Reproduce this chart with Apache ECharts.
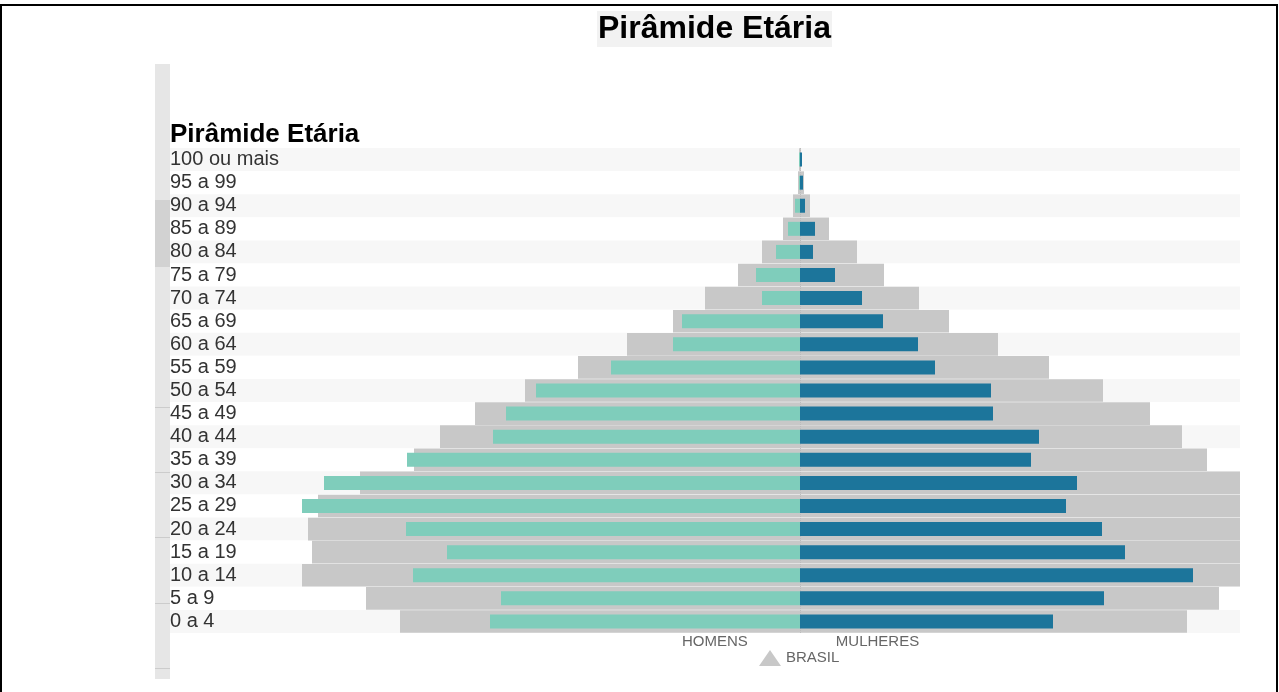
<!DOCTYPE html>
<html>
<head>
<meta charset="utf-8">
<title>Pirâmide Etária</title>
<script src="https://cdn.jsdelivr.net/npm/echarts@6/dist/echarts.min.js"></script>
<style>
    html, body { margin: 0; padding: 0; background: #fff; }
    #chart { width: 1279px; height: 692px; }
</style>
</head>
<body>
<div id="chart"></div>
<script>
// faixas etárias (de cima para baixo)
var faixas = ['100 ou mais', '95 a 99', '90 a 94', '85 a 89', '80 a 84', '75 a 79', '70 a 74',
    '65 a 69', '60 a 64', '55 a 59', '50 a 54', '45 a 49', '40 a 44', '35 a 39', '30 a 34',
    '25 a 29', '20 a 24', '15 a 19', '10 a 14', '5 a 9', '0 a 4'];
// % da população do município
var homens = [0.01, 0.01, 0.05, 0.12, 0.24, 0.44, 0.38, 1.18, 1.27, 1.89, 2.64, 2.94, 3.07,
    3.93, 4.76, 4.98, 3.94, 3.53, 3.87, 2.99, 3.10];
var mulheres = [0.02, 0.03, 0.05, 0.15, 0.13, 0.35, 0.62, 0.83, 1.18, 1.35, 1.91, 1.93, 2.39,
    2.31, 2.77, 2.66, 3.02, 3.25, 3.93, 3.04, 2.53];
// % da população do Brasil (fundo cinza)
var brasilHomens = [0.01, 0.02, 0.07, 0.17, 0.38, 0.62, 0.95, 1.27, 1.73, 2.22, 2.75, 3.25, 3.60,
    3.86, 4.40, 4.82, 4.92, 4.88, 4.98, 4.34, 4.00];
var brasilMulheres = [0.01, 0.04, 0.10, 0.29, 0.57, 0.84, 1.19, 1.49, 1.98, 2.49, 3.03, 3.50, 3.82,
    4.07, 4.55, 4.55, 4.55, 4.55, 4.55, 4.19, 3.87];

var fonte = '"Liberation Sans", Arial, sans-serif';
var neg = function (arr) { return arr.map(function (v) { return -v; }); };

var chart = echarts.init(document.getElementById('chart'));
chart.setOption({
    animation: false,
    textStyle: { fontFamily: fonte },
    title: [{
        text: 'Pirâmide Etária',
        left: 597,
        top: 12,
        padding: [2, 1],
        backgroundColor: '#f2f2f2',
        textStyle: { fontSize: 32, fontWeight: 'bold', color: '#000', fontFamily: fonte, lineHeight: 30 }
    }, {
        text: 'Pirâmide Etária',
        left: 170,
        top: 122,
        padding: 0,
        textStyle: { fontSize: 26, fontWeight: 'bold', color: '#000', fontFamily: fonte }
    }],
    tooltip: {
        trigger: 'item',
        formatter: function (p) {
            return p.seriesName + '<br/>' + p.name + ': ' + Math.abs(p.value).toFixed(2) + '%';
        }
    },
    legend: [{
        data: [{ name: 'HOMENS', icon: 'none' }, { name: 'MULHERES', icon: 'none' }],
        left: 677,
        top: 634,
        padding: 0,
        itemWidth: 0,
        itemGap: 83,
        textStyle: { fontSize: 15, color: '#666', fontFamily: fonte }
    }, {
        data: [{ name: 'BRASIL', icon: 'triangle' }],
        left: 759,
        top: 650,
        padding: 0,
        itemWidth: 22,
        itemHeight: 16,
        textStyle: { fontSize: 15, color: '#666', fontFamily: fonte }
    }],
    grid: { left: 170, right: 39, top: 148, bottom: 59 },
    xAxis: {
        type: 'value',
        min: -6.3,
        max: 4.4,
        show: false
    },
    yAxis: [{
        type: 'category',
        data: faixas,
        inverse: true,
        axisLine: { show: false },
        axisTick: { show: false },
        axisLabel: {
            inside: true,
            interval: 0,
            margin: 0,
            fontSize: 20,
            color: '#333',
            fontFamily: fonte
        },
        splitArea: {
            show: true,
            interval: 0,
            areaStyle: { color: ['#f7f7f7', '#ffffff'] }
        }
    }, {
        // eixo escondido só para as barras coloridas (mais finas)
        type: 'category',
        data: faixas,
        inverse: true,
        show: false
    }],
    series: [{
        name: 'BRASIL',
        type: 'bar',
        stack: 'brasil',
        yAxisIndex: 0,
        z: 1,
        barCategoryGap: '2%',
        data: neg(brasilHomens),
        itemStyle: { color: '#c8c8c8' },
        markLine: {
            silent: true,
            z: 2,
            symbol: 'none',
            label: { show: false },
            lineStyle: { color: '#bcbcbc', type: 'dotted', width: 1 },
            data: [{ xAxis: 0 }]
        }
    }, {
        name: 'BRASIL',
        type: 'bar',
        stack: 'brasil',
        yAxisIndex: 0,
        z: 1,
        barCategoryGap: '2%',
        data: brasilMulheres,
        itemStyle: { color: '#c8c8c8' }
    }, {
        name: 'HOMENS',
        type: 'bar',
        stack: 'local',
        yAxisIndex: 1,
        z: 3,
        barWidth: 14,
        data: neg(homens),
        itemStyle: { color: '#7fcdbb' }
    }, {
        name: 'MULHERES',
        type: 'bar',
        stack: 'local',
        yAxisIndex: 1,
        z: 3,
        barWidth: 14,
        data: mulheres,
        itemStyle: { color: '#1c759b' }
    }],
    graphic: [{
        // moldura
        type: 'rect',
        shape: { x: 1, y: 5, width: 1276, height: 700 },
        style: { fill: 'none', stroke: '#000', lineWidth: 2 },
        silent: true
    }, {
        // barra lateral cinza
        type: 'rect',
        shape: { x: 155, y: 64, width: 15, height: 615 },
        style: { fill: '#e6e6e6' },
        silent: true
    }, {
        type: 'rect',
        shape: { x: 155, y: 200, width: 15, height: 67 },
        style: { fill: '#d2d2d2' },
        silent: true
    }, {
        type: 'group',
        silent: true,
        children: [407, 472, 537, 603, 668].map(function (y) {
            return {
                type: 'line',
                shape: { x1: 155, y1: y + 0.5, x2: 170, y2: y + 0.5 },
                style: { stroke: '#cccccc', lineWidth: 1 }
            };
        })
    }]
});
</script>
</body>
</html>
